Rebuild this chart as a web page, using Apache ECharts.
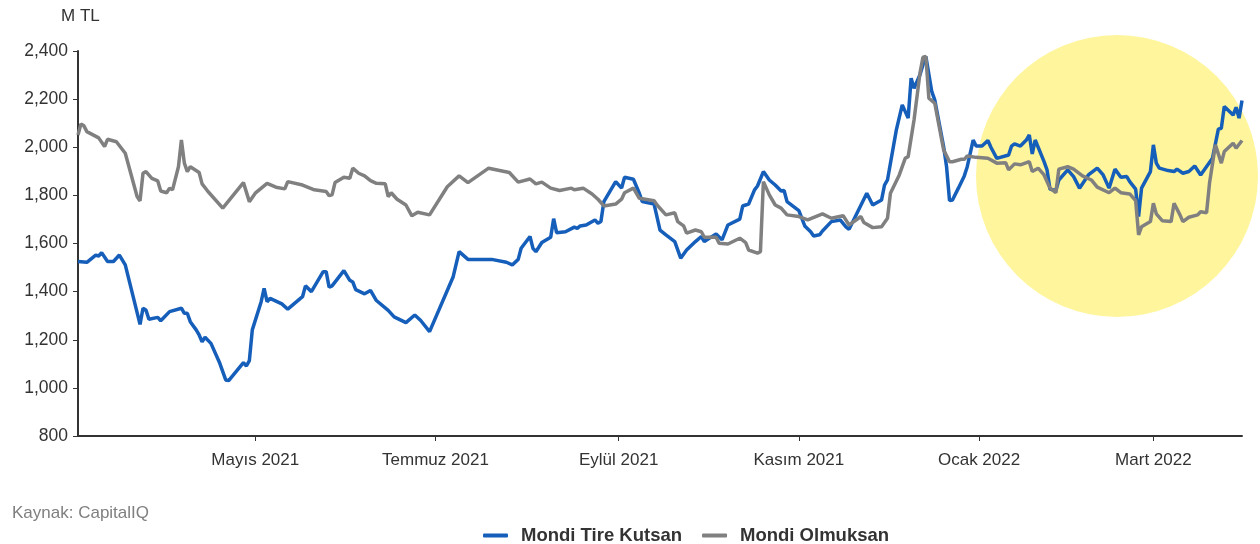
<!DOCTYPE html>
<html>
<head>
<meta charset="utf-8">
<script src="https://cdn.jsdelivr.net/npm/echarts@6/dist/echarts.min.js"></script>
<style>
html, body { margin: 0; padding: 0; background: #fff; }
#main { width: 1260px; height: 544px; }
</style>
</head>
<body>
<div id="main"></div>
<script>
// gun sayilari 2021-03-02 tarihinden itibaren
const startDate = '2021-03-02'
const endDay = 394
const tickDates = ['2021-05-01', '2021-07-01', '2021-09-01', '2021-11-01', '2022-01-01', '2022-03-01']
const tickLabels = ['Mayıs 2021', 'Temmuz 2021', 'Eylül 2021', 'Kasım 2021', 'Ocak 2022', 'Mart 2022']

const kutsanDays = [0, 3, 6, 7, 8, 10, 12, 14, 16, 21, 22, 23, 24, 27, 28, 31, 35, 36, 37, 38, 40, 41, 42, 43, 45, 48, 50, 51, 56, 57, 58, 59, 62, 63, 64, 65, 69, 71, 76, 77, 79, 83, 84, 85, 86, 90, 92, 93, 94, 97, 99, 101, 105, 107, 111, 114, 116, 119, 127, 129, 132, 140, 145, 147, 149, 150, 153, 154, 155, 157, 160, 161, 162, 165, 168, 169, 170, 172, 175, 176, 177, 178, 180, 182, 184, 185, 188, 190, 191, 195, 197, 199, 202, 204, 206, 209, 211, 212, 216, 218, 220, 224, 225, 227, 229, 230, 232, 234, 236, 238, 239, 240, 244, 246, 248, 249, 251, 252, 255, 258, 260, 261, 267, 269, 272, 273, 274, 277, 279, 281, 282, 283, 285, 286, 287, 289, 290, 293, 294, 295, 296, 298, 300, 301, 303, 304, 306, 308, 309, 311, 315, 316, 317, 319, 321, 322, 323, 324, 327, 328, 329, 331, 332, 335, 337, 339, 342, 345, 347, 349, 351, 353, 355, 356, 358, 359, 360, 363, 364, 365, 366, 369, 371, 372, 374, 376, 378, 380, 384, 386, 387, 388, 391, 392, 393, 394]
const kutsanValues = [1525, 1522, 1552, 1548, 1562, 1525, 1525, 1552, 1511, 1264, 1331, 1324, 1285, 1293, 1279, 1317, 1331, 1310, 1310, 1275, 1241, 1220, 1192, 1210, 1185, 1102, 1033, 1030, 1105, 1091, 1113, 1241, 1358, 1414, 1358, 1372, 1349, 1327, 1379, 1424, 1400, 1483, 1483, 1418, 1424, 1487, 1447, 1440, 1408, 1391, 1405, 1363, 1322, 1295, 1271, 1303, 1280, 1234, 1462, 1566, 1534, 1534, 1522, 1511, 1534, 1580, 1629, 1580, 1566, 1604, 1626, 1703, 1645, 1649, 1668, 1663, 1673, 1677, 1698, 1684, 1691, 1774, 1816, 1857, 1830, 1875, 1867, 1809, 1774, 1764, 1656, 1636, 1608, 1539, 1573, 1608, 1629, 1608, 1640, 1615, 1677, 1701, 1756, 1764, 1823, 1839, 1899, 1864, 1843, 1818, 1820, 1774, 1737, 1673, 1649, 1631, 1636, 1652, 1691, 1698, 1668, 1659, 1809, 1760, 1781, 1843, 1864, 2072, 2176, 2121, 2287, 2245, 2301, 2342, 2377, 2231, 2197, 2003, 1919, 1778, 1781, 1830, 1881, 1919, 2030, 2005, 2005, 2028, 2000, 1954, 1968, 2005, 2014, 2005, 2030, 2051, 1972, 2030, 1940, 1906, 1826, 1820, 1864, 1906, 1878, 1830, 1885, 1913, 1885, 1830, 1909, 1875, 1878, 1857, 1826, 1712, 1830, 1899, 2010, 1934, 1913, 1903, 1899, 1909, 1892, 1899, 1922, 1885, 1954, 2075, 2079, 2169, 2134, 2166, 2121, 2194]

const olmuksanDays = [0, 1, 2, 3, 7, 9, 10, 13, 16, 20, 21, 22, 23, 25, 27, 28, 30, 31, 32, 34, 35, 36, 37, 38, 41, 42, 44, 49, 56, 58, 60, 64, 67, 70, 71, 76, 80, 84, 85, 86, 87, 90, 92, 93, 95, 97, 99, 101, 104, 105, 106, 108, 111, 113, 115, 119, 125, 129, 132, 139, 146, 149, 153, 155, 157, 160, 163, 167, 168, 171, 174, 176, 178, 182, 184, 185, 188, 190, 195, 196, 199, 202, 203, 205, 206, 209, 211, 212, 216, 217, 220, 224, 226, 227, 230, 231, 232, 234, 236, 238, 240, 244, 247, 252, 255, 259, 261, 265, 266, 269, 272, 274, 275, 278, 280, 281, 283, 285, 286, 287, 288, 290, 293, 295, 296, 299, 300, 301, 304, 308, 311, 314, 315, 317, 319, 322, 323, 325, 327, 329, 331, 332, 335, 337, 340, 343, 345, 349, 351, 353, 356, 358, 359, 360, 363, 364, 365, 367, 370, 371, 373, 374, 376, 379, 380, 382, 383, 385, 387, 388, 391, 392, 394]
const olmuksanValues = [2051, 2097, 2089, 2065, 2039, 2003, 2033, 2023, 1975, 1795, 1777, 1892, 1899, 1871, 1860, 1818, 1811, 1830, 1823, 1919, 2030, 1934, 1899, 1919, 1895, 1848, 1816, 1747, 1853, 1774, 1809, 1850, 1834, 1827, 1857, 1843, 1823, 1816, 1799, 1802, 1853, 1875, 1871, 1913, 1892, 1881, 1861, 1850, 1848, 1795, 1811, 1784, 1760, 1715, 1730, 1719, 1836, 1881, 1853, 1913, 1895, 1855, 1868, 1848, 1855, 1830, 1820, 1830, 1823, 1830, 1806, 1784, 1756, 1764, 1784, 1811, 1830, 1788, 1778, 1760, 1719, 1728, 1691, 1673, 1643, 1656, 1649, 1626, 1626, 1601, 1598, 1622, 1604, 1573, 1560, 1566, 1857, 1802, 1760, 1747, 1719, 1712, 1698, 1723, 1705, 1716, 1677, 1712, 1687, 1666, 1670, 1705, 1809, 1885, 1954, 1961, 2114, 2308, 2374, 2377, 2204, 2183, 1989, 1940, 1940, 1950, 1950, 1964, 1958, 1954, 1934, 1936, 1906, 1931, 1927, 1940, 1899, 1913, 1885, 1830, 1811, 1909, 1919, 1909, 1881, 1864, 1834, 1811, 1830, 1811, 1806, 1778, 1636, 1670, 1691, 1767, 1723, 1695, 1691, 1767, 1719, 1691, 1709, 1719, 1732, 1728, 1850, 2010, 1934, 1982, 2017, 1996, 2028]

const DAY = 86400000
const t0 = Date.parse(startDate + 'T00:00:00Z')
const tickDays = tickDates.map(s => Math.round((Date.parse(s + 'T00:00:00Z') - t0) / DAY))

const kutsan = kutsanDays.map((d, i) => [d, kutsanValues[i]])
const olmuksan = olmuksanDays.map((d, i) => [d, olmuksanValues[i]])

const font = '"Liberation Sans", Arial, sans-serif'
const chart = echarts.init(document.getElementById('main'))
chart.setOption({
  animation: false,
  title: {
    text: 'M TL',
    left: 56,
    top: 3,
    textStyle: { fontFamily: font, fontSize: 17, fontWeight: 'normal', color: '#333' }
  },
  graphic: [
    // sari daire vurgusu
    { type: 'circle', z: 0, shape: { cx: 1117, cy: 176, r: 141 }, style: { fill: '#FFF59D' } },
    {
      type: 'text', left: 12, top: 505,
      style: { text: 'Kaynak: CapitalIQ', fontFamily: font, fontSize: 17, fill: '#7f7f7f' }
    }
  ],
  legend: {
    left: 478,
    top: 521,
    icon: 'roundRect',
    itemWidth: 25,
    itemHeight: 4,
    itemGap: 20,
    textStyle: { fontFamily: font, fontSize: 18.5, fontWeight: 'bold', color: '#333', padding: [0, 0, 0, 8] }
  },
  grid: { left: 78, right: 18, top: 51, bottom: 108 },
  xAxis: {
    type: 'value',
    min: 0,
    max: endDay,
    axisLine: { lineStyle: { color: '#333', width: 2 } },
    axisTick: { show: true, customValues: tickDays, length: 5, lineStyle: { color: '#333' } },
    axisLabel: {
      customValues: tickDays,
      margin: 16,
      fontFamily: font,
      fontSize: 17,
      color: '#333',
      formatter: v => tickLabels[tickDays.indexOf(v)] || ''
    },
    splitLine: { show: false }
  },
  yAxis: {
    type: 'value',
    min: 800,
    max: 2400,
    interval: 200,
    axisLine: { show: true, lineStyle: { color: '#333', width: 2 } },
    axisTick: { show: true, length: 5, lineStyle: { color: '#333' } },
    axisLabel: { margin: 10, fontFamily: font, fontSize: 17.5, color: '#333' },
    splitLine: { show: false }
  },
  series: [
    {
      name: 'Mondi Tire Kutsan',
      type: 'line',
      data: kutsan,
      showSymbol: false,
      color: '#155EBA',
      lineStyle: { width: 3.5, color: '#155EBA' }
    },
    {
      name: 'Mondi Olmuksan',
      type: 'line',
      data: olmuksan,
      showSymbol: false,
      color: '#808080',
      lineStyle: { width: 3.5, color: '#808080' }
    }
  ]
})
</script>
</body>
</html>
